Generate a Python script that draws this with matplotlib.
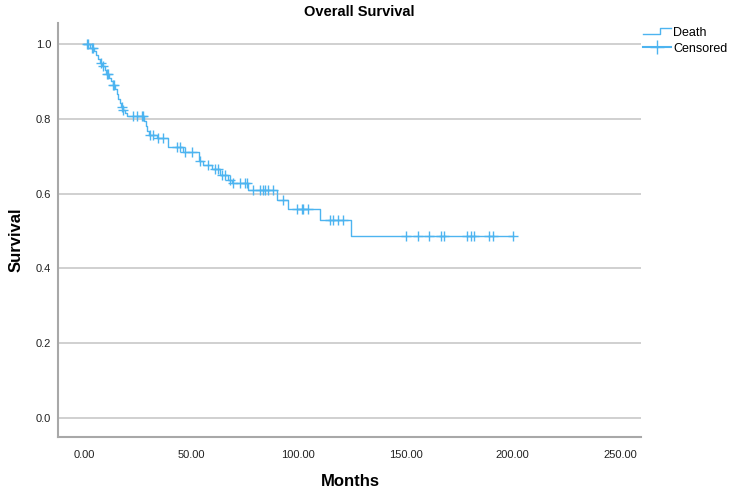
import numpy as np
import matplotlib
matplotlib.use("Agg")
import matplotlib.pyplot as plt
from matplotlib.lines import Line2D
from matplotlib.legend_handler import HandlerBase

plt.rcParams["font.family"] = ["Liberation Sans", "DejaVu Sans"]

# ---- data ----
event_times = [2.8, 4.7, 5.6, 6.5, 7.5, 8.4, 9.6, 10.5, 11.7, 12.6, 13.5, 14.7,
               15.4, 16.1, 16.8, 17.5, 18.2, 19.1, 20.1, 28.0, 28.8, 29.4, 30.5,
               33.9, 39.2, 46.2, 53.6, 55.6, 59.5, 63.4, 67.3, 68.9, 76.6, 89.9,
               95.3, 110.1, 124.4]
survival = [0.99, 0.98, 0.97, 0.96, 0.95, 0.94, 0.93, 0.92, 0.91, 0.90, 0.89, 0.88,
            0.865, 0.853, 0.842, 0.832, 0.823, 0.815, 0.806, 0.793, 0.78, 0.767, 0.757,
            0.748, 0.725, 0.711, 0.686, 0.676, 0.665, 0.65, 0.636, 0.627, 0.61, 0.583,
            0.558, 0.528, 0.487]
censor_times = [1.2, 2.0, 3.6, 4.3, 7.8, 8.7, 10.6, 11.3, 13.7, 14.1, 17.6, 18.3,
                23.0, 24.6, 27.1, 27.7, 30.8, 32.3, 34.7, 37.0, 43.2, 44.8, 47.1,
                50.4, 54.1, 57.8, 61.1, 62.5, 64.4, 65.8, 68.1, 69.5, 72.8, 75.1,
                76.0, 78.8, 82.1, 83.5, 84.4, 85.8, 88.2, 92.8, 99.3, 101.7, 102.1,
                104.5, 114.7, 116.1, 118.5, 120.8, 150.2, 155.9, 161.1, 166.4, 167.9,
                178.5, 180.4, 181.9, 189.0, 190.9, 200.0]
last_time = 200.0

x_ticks = [0, 50, 100, 150, 200, 250]
y_ticks = [0.0, 0.2, 0.4, 0.6, 0.8, 1.0]

LINE_C = "#4DB4F0"
GRID_C = "#C8C8C8"
SPINE_C = "#A8A8A8"

# step curve
t_step = np.concatenate([[0.0], event_times, [last_time]])
s_step = np.concatenate([[1.0], survival, [survival[-1]]])
idx = np.searchsorted(event_times, censor_times, side="right")
s_all = np.concatenate([[1.0], survival])
censor_s = s_all[idx]

fig = plt.figure(figsize=(7.32, 4.92), dpi=100)
ax = fig.add_axes([58 / 732, 1 - 437 / 492, (641 - 58) / 732, (437 - 23) / 492])

ax.plot(t_step, s_step, drawstyle="steps-post", color=LINE_C, lw=1.0, zorder=3)
ax.plot(censor_times, censor_s, ls="none", marker="+", color=LINE_C,
        markersize=6.5, mew=1.0, zorder=4)

ax.set_xlim(-12.1, 259.8)
ax.set_ylim(-0.051, 1.056)
ax.set_xticks(x_ticks)
ax.set_xticklabels([f"{v:.2f}" for v in x_ticks])
ax.set_yticks(y_ticks)
ax.set_yticklabels([f"{v:.1f}" for v in y_ticks])
ax.tick_params(length=0, labelsize=8, colors="#222222")
ax.tick_params(axis="x", pad=9)
ax.tick_params(axis="y", pad=5)
ax.yaxis.grid(True, color=GRID_C, lw=1.2)
ax.set_axisbelow(True)
for side in ["top", "right"]:
    ax.spines[side].set_visible(False)
for side in ["left", "bottom"]:
    ax.spines[side].set_color(SPINE_C)
    ax.spines[side].set_linewidth(1.5)

fig.text(359 / 732, 1 - 12 / 492, "Overall Survival", ha="center", va="center",
         fontsize=10.5, fontweight="bold")
fig.text(350 / 732, 1 - 481 / 492, "Months", ha="center", va="center",
         fontsize=12, fontweight="bold")
fig.text(16 / 732, 1 - 240 / 492, "Survival", ha="center", va="center",
         fontsize=12, fontweight="bold", rotation=90)


class StepHandler(HandlerBase):
    def create_artists(self, legend, orig_handle, xdescent, ydescent,
                       width, height, fontsize, trans):
        xs = np.array([0, 0.6, 0.6, 1.0]) * width - xdescent
        ys = np.array([0.2, 0.2, 0.9, 0.9]) * height - ydescent
        ln = Line2D(xs, ys, color=LINE_C, lw=1.0)
        ln.set_transform(trans)
        return [ln]


death_h = Line2D([], [], color=LINE_C)
cens_h = Line2D([], [], color=LINE_C, marker="+", markersize=10, mew=1.0)
fig.legend([death_h, cens_h], ["Death", "Censored"],
           handler_map={death_h: StepHandler()},
           loc="upper left", bbox_to_anchor=(643 / 732, 1 - 27 / 492),
           frameon=False, fontsize=9, handlelength=2.2, handletextpad=0.2,
           labelspacing=0.3, borderaxespad=0, borderpad=0)

fig.savefig("out.png", dpi=100)
